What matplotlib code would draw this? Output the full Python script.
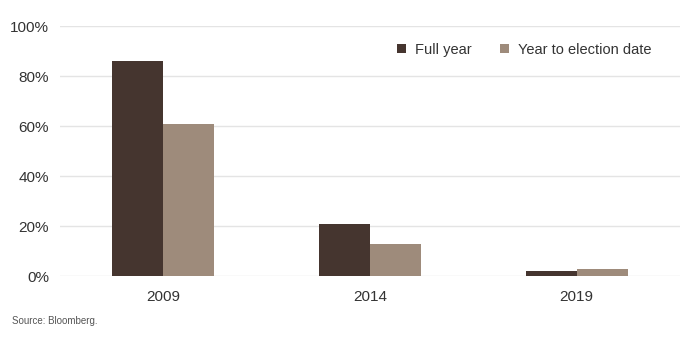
import numpy as np
import matplotlib
matplotlib.use("Agg")
import matplotlib.pyplot as plt

years = ["2009", "2014", "2019"]
full_year = [86, 21, 2]
to_election = [61, 13, 3]
series = ["Full year", "Year to election date"]
colors = ["#45352f", "#9e8b7b"]

plt.rcParams['font.family'] = ['Liberation Sans Narrow', 'Liberation Sans', 'DejaVu Sans']

fig = plt.figure(figsize=(6.96, 3.37), dpi=100)
ax = fig.add_axes([60/696, 61/337, 620/696, 250/337])

x = np.arange(len(years))
w = 0.247
ax.bar(x - w/2, full_year, w, color=colors[0], label=series[0], zorder=3)
ax.bar(x + w/2, to_election, w, color=colors[1], label=series[1], zorder=3)

ax.set_xlim(-0.5, 2.5)
ax.set_ylim(0, 100)
ax.set_yticks(range(0, 101, 20))
ax.set_yticklabels([f"{v}%" for v in range(0, 101, 20)])
ax.set_xticks(x)
ax.set_xticklabels(years)
ax.grid(axis='y', color='#e4e4e4', lw=1, zorder=0)
for s in ax.spines.values():
    s.set_visible(False)
ax.tick_params(length=0, labelsize=11, colors='#333333')
ax.tick_params(axis='x', pad=10)
ax.tick_params(axis='y', pad=8)

ax.legend(loc='upper right', bbox_to_anchor=(0.975, 0.985), ncol=2, frameon=False,
          fontsize=10.5, handlelength=0.6, handleheight=0.6, columnspacing=2.0,
          handletextpad=0.6, labelcolor='#333333')

fig.text(12/696, 1 - 321/337, "Source: Bloomberg.", fontsize=7, color='#555555', va='center')

fig.savefig("out.png", dpi=100)
